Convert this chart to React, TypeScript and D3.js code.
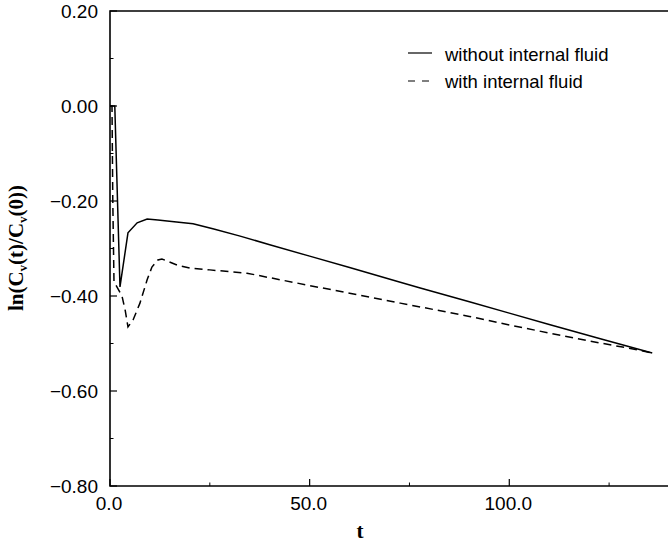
import React from "react";
import * as d3 from "d3";

const solidT = [0, 1.2, 2.5, 4.5, 6.8, 9.3, 12, 14.3, 20.8, 26, 32.6, 40, 50, 60, 72.7, 77.7, 90, 100, 110, 122.8, 135.8];
const solidV = [0, 0, -0.381, -0.267, -0.246, -0.238, -0.24, -0.242, -0.248, -0.259, -0.274, -0.292, -0.316, -0.34, -0.371, -0.383, -0.412, -0.436, -0.46, -0.49, -0.52];

const dashT = [0, 0.5, 0.7, 1.0, 3.0, 3.8, 4.5, 5.8, 7.5, 9.3, 10.5, 12, 13, 16.8, 20, 25, 34.3, 50, 60, 72.7, 77.7, 90, 100, 110, 122.8, 130, 135.8];
const dashV = [0, 0, -0.2, -0.37, -0.4, -0.43, -0.465, -0.45, -0.415, -0.366, -0.339, -0.324, -0.322, -0.335, -0.341, -0.345, -0.352, -0.378, -0.394, -0.415, -0.423, -0.443, -0.461, -0.478, -0.499, -0.51, -0.52];

const xMajor = [0, 50, 100];
const xMinor = [25, 75, 125];
const yMajor = [0.2, 0, -0.2, -0.4, -0.6, -0.8];
const yMinor = [0.1, -0.1, -0.3, -0.5, -0.7];

const legendLabels = ["without internal fluid", "with internal fluid"];

export default function App() {
  const x = d3.scaleLinear().domain([0, 140]).range([110, 669]);
  const y = d3.scaleLinear().domain([-0.8, 0.2]).range([486, 11]);
  const line = d3
    .line<[number, number]>()
    .x((d) => x(d[0]))
    .y((d) => y(d[1]));
  const solid = solidT.map((t, i) => [t, solidV[i]] as [number, number]);
  const dashed = dashT.map((t, i) => [t, dashV[i]] as [number, number]);
  const [x0, x1] = x.range();
  const [yb, yt] = y.range();
  const sans = "'Liberation Sans', Arial, Helvetica, sans-serif";
  const serif = "'Liberation Serif', 'Times New Roman', serif";
  return (
    <svg
      width={668}
      height={542}
      style={{ position: "absolute", left: 0, top: 0, background: "#fff" }}
    >
      <rect x={0} y={0} width={668} height={542} fill="#fff" />
      {/* frame */}
      <path
        d={`M${x1},${yt}H${x0}V${yb}H${x1}`}
        fill="none"
        stroke="#000"
        strokeWidth={1.6}
      />
      {/* y ticks */}
      {yMajor.map((v) => (
        <g key={"ym" + v}>
          <line x1={x0} x2={x0 + 7} y1={y(v)} y2={y(v)} stroke="#000" strokeWidth={1.2} />
          <text
            x={98}
            y={y(v)}
            dy="0.36em"
            textAnchor="end"
            fontFamily={sans}
            fontSize={19}
            fill="#000"
          >
            {v < 0 ? "\u2212" + Math.abs(v).toFixed(2) : v.toFixed(2)}
          </text>
        </g>
      ))}
      {yMinor.map((v) => (
        <line key={"yn" + v} x1={x0} x2={x0 + 3.5} y1={y(v)} y2={y(v)} stroke="#000" strokeWidth={1} />
      ))}
      {/* x ticks */}
      {xMajor.map((t) => (
        <g key={"xm" + t}>
          <line x1={x(t)} x2={x(t)} y1={yb} y2={yb - 7} stroke="#000" strokeWidth={1.2} />
          <text
            x={x(t) - 1}
            y={510}
            textAnchor="middle"
            fontFamily={sans}
            fontSize={19}
            fill="#000"
          >
            {t.toFixed(1)}
          </text>
        </g>
      ))}
      {xMinor.map((t) => (
        <line key={"xn" + t} x1={x(t)} x2={x(t)} y1={yb} y2={yb - 3.5} stroke="#000" strokeWidth={1} />
      ))}
      {/* curves */}
      <path d={line(solid) || ""} fill="none" stroke="#000" strokeWidth={1.5} />
      <path
        d={line(dashed) || ""}
        fill="none"
        stroke="#000"
        strokeWidth={1.5}
        strokeDasharray="8,5"
      />
      {/* legend */}
      <line x1={408} x2={432} y1={53} y2={53} stroke="#000" strokeWidth={1.2} />
      <text x={445} y={61} fontFamily={sans} fontSize={18.5} fill="#000">
        {legendLabels[0]}
      </text>
      <line x1={408} x2={430} y1={81} y2={81} stroke="#000" strokeWidth={1.2} strokeDasharray="7,7" />
      <text x={445} y={88} fontFamily={sans} fontSize={18.5} fill="#000">
        {legendLabels[1]}
      </text>
      {/* axis labels */}
      <text
        x={360}
        y={538}
        textAnchor="middle"
        fontFamily={serif}
        fontWeight="bold"
        fontSize={21}
        fill="#000"
      >
        t
      </text>
      <text
        transform="translate(23,248) rotate(-90)"
        textAnchor="middle"
        fontFamily={serif}
        fontWeight="bold"
        fontSize={21}
        fill="#000"
      >
        ln(C
        <tspan fontSize={13} dy={4}>v</tspan>
        <tspan dy={-4}>(t)/C</tspan>
        <tspan fontSize={13} dy={4}>v</tspan>
        <tspan dy={-4}>(0))</tspan>
      </text>
    </svg>
  );
}
